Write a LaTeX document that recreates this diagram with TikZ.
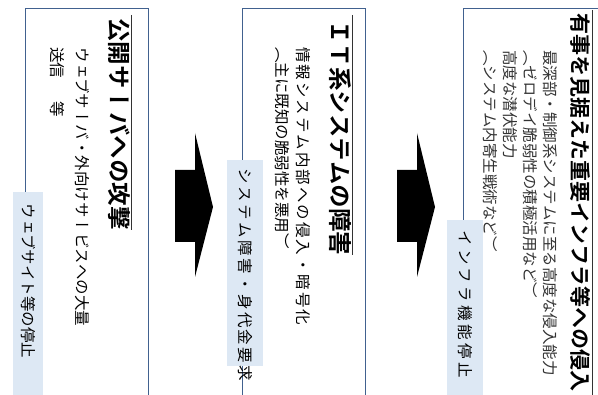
\documentclass[tikz,border=0pt]{standalone}
\usepackage{fontspec}
\usetikzlibrary{shapes,arrows}
\newfontfamily\tate[Vertical=RotatedGlyphs,BoldFont={* Bold}]{Noto Sans CJK JP}
\definecolor{frameblue}{HTML}{41618F}
\definecolor{tagblue}{HTML}{DDE8F4}
\tikzstyle{frame} = [rectangle, draw=frameblue, line width=0.9pt, anchor=north west, minimum width=123pt, minimum height=400pt, inner sep=0pt]
\tikzstyle{heading} = [rotate=-90, anchor=west, inner sep=0pt, font=\tate\bfseries\fontsize{23.5}{23.5}\selectfont]
\tikzstyle{body} = [rotate=-90, anchor=north west, inner sep=0pt, align=left]
\tikzstyle{tag} = [rotate=-90, fill=tagblue, anchor=south west, inner ysep=0pt, text width=190pt, align=left, font=\tate\fontsize{15.5}{15.5}\selectfont]
\tikzstyle{rule} = [draw=black!80, line width=1pt]

\begin{document}
\begin{tikzpicture}[x=1pt,y=1pt]
\useasboundingbox (0,0) rectangle (598,395);
\clip (0,0) rectangle (598,395);
		\node[frame](f1) at (25,387){};
		\node[frame](f2) at (242,387){};
		\node[frame,minimum width=160pt](f3) at (463,387){};
		
		\node[heading](h1) at (119,377){公開サーバへの攻撃};
		\node[heading](h2) at (340,375){ＩＴ系システムの障害};
		\node[heading,font=\tate\bfseries\fontsize{21}{21}\selectfont](h3) at (581,382){有事を見据えた重要インフラ等への侵入};
		
		\node[body,font=\tate\fontsize{15.5}{25}\selectfont](d1) at (90,348){ウェブサーバ・外向けサービスへの大量\\送信\hspace{1.5em}等};
		\node[body,font=\tate\fontsize{15.5}{21}\selectfont](d2) at (311,348){{\addfontfeature{LetterSpace=13}情報システム内部への侵入・暗号化}\\（主に既知の脆弱性を悪用）};
		\node[body,font=\tate\fontsize{15.5}{20}\selectfont,text=black!80](d3) at (558,345){最深部・制御系システムに至る高度な侵入能力\\（ゼロデイ脆弱性の積極活用など）\\高度な潜伏能力\\（システム内寄生戦術など）};
		
		\node[tag,minimum height=30pt,inner xsep=11pt](t1) at (13,203){ウェブサイト等の停止};
		\node[tag,minimum height=36pt,inner xsep=8pt](t2) at (227,235){\addfontfeature{LetterSpace=16}システム障害・身代金要求};
		\node[tag,minimum height=36pt,inner xsep=10pt](t3) at (447,175){\addfontfeature{LetterSpace=22}インフラ機能停止};
		
		\draw[rule] ([xshift=1.5pt,yshift=3pt]h1.north west)--([xshift=1.5pt]h1.north east);
		\draw[rule] ([xshift=1.5pt,yshift=5pt]h2.north west)--([xshift=1.5pt]h2.north east);
		\draw[rule] ([xshift=1.5pt,yshift=3pt]h3.north west)--([xshift=1.5pt,yshift=-20pt]h3.north east);
		
		\fill (175,225)--(195,225)--(195,262)--(213,188)--(195,118)--(195,153)--(175,153)--cycle;
		\fill (397,225)--(417,225)--(417,262)--(435,188)--(417,118)--(417,153)--(397,153)--cycle;
\end{tikzpicture}
\end{document}
